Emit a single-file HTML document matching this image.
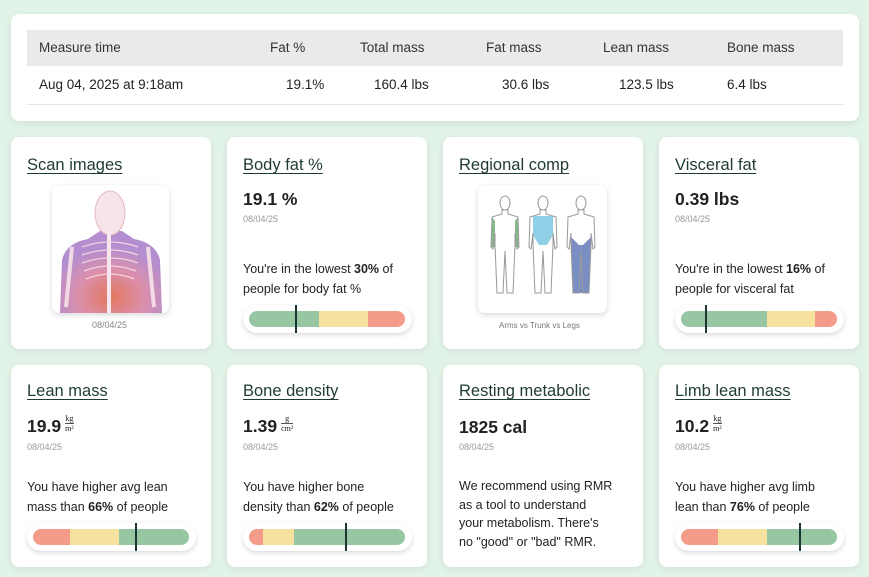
<!DOCTYPE html>
<html><head><meta charset="utf-8"><style>
*{box-sizing:border-box;margin:0;padding:0}
body{width:869px;height:577px;background:#e2f3e8;font-family:"Liberation Sans",sans-serif;color:#222;position:relative;overflow:hidden}
.card{position:absolute;background:#fff;border-radius:8px;box-shadow:0 2px 8px rgba(0,0,0,.08)}
.abs{position:absolute;white-space:nowrap}
.title{font-size:16.5px;color:#1f3b35;text-decoration:underline;text-underline-offset:3px;text-decoration-thickness:1px}
.val{font-size:17.5px;font-weight:bold;color:#222}
.date{font-size:9px;color:#999}
.txt{font-size:12.5px;line-height:20px;color:#222;white-space:normal}
.th{font-size:13.5px;color:#333}
.frac{display:inline-block;vertical-align:middle;font-family:"Liberation Serif",serif;font-size:8px;text-align:center;line-height:9px;margin-left:4px;position:relative;top:-4px;font-weight:normal}
.frac span{display:block}
.frac .n{border-bottom:1px solid #555}
.pill{position:absolute;background:#fff;border-radius:14px;box-shadow:0 2px 5px rgba(0,0,0,.15);height:28px}
</style></head><body>
<div class="card" style="left:11px;top:14px;width:848px;height:107px">
 <div class="abs" style="left:16px;top:16px;width:816px;height:36px;background:#e9eaea"></div>
 <div class="abs" style="left:16px;top:90px;width:816px;height:1px;background:#e4e4e4"></div>
 <div class="abs th" style="left:28px;top:26px">Measure time</div>
 <div class="abs th" style="left:259px;top:26px">Fat %</div>
 <div class="abs th" style="left:349px;top:26px">Total mass</div>
 <div class="abs th" style="left:475px;top:26px">Fat mass</div>
 <div class="abs th" style="left:592px;top:26px">Lean mass</div>
 <div class="abs th" style="left:716px;top:26px">Bone mass</div>
 <div class="abs th" style="left:28px;top:63px;color:#222">Aug 04, 2025 at 9:18am</div>
 <div class="abs th" style="left:275px;top:63px;color:#222">19.1%</div>
 <div class="abs th" style="left:363px;top:63px;color:#222">160.4 lbs</div>
 <div class="abs th" style="left:491px;top:63px;color:#222">30.6 lbs</div>
 <div class="abs th" style="left:608px;top:63px;color:#222">123.5 lbs</div>
 <div class="abs th" style="left:716px;top:63px;color:#222">6.4 lbs</div>
</div>

<!-- Row 1 -->
<div class="card" style="left:11px;top:137px;width:200px;height:212px">
 <div class="abs title" style="left:16px;top:19px">Scan images</div>
 <div class="abs" style="left:41px;top:48px;width:117px;height:128px;border-radius:7px;background:#fff;box-shadow:0 2px 6px rgba(0,0,0,.15);overflow:hidden">
  <svg width="117" height="128" viewBox="0 0 117 128">
   <defs><radialGradient id="tg" cx="50%" cy="80%" r="60%"><stop offset="0" stop-color="#d94a28"/><stop offset=".55" stop-color="#cf6a90"/><stop offset="1" stop-color="#9a68c0"/></radialGradient></defs>
   <path d="M8 128 L10 75 Q14 58 36 54 L48 46 L70 46 L82 54 Q104 58 108 75 L110 128 Z" fill="url(#tg)" opacity=".75"/>
   <ellipse cx="58" cy="28" rx="15" ry="22" fill="#f6e4e8" stroke="#e5b8c6"/>
   <path d="M57 45 L57 128" stroke="#f8e8ee" stroke-width="4"/>
   <g stroke="#f5dde6" stroke-width="1.3" fill="none" opacity=".9">
    <path d="M30 62 Q58 52 86 62"/><path d="M30 70 Q58 60 86 70"/><path d="M30 78 Q58 68 86 78"/><path d="M32 86 Q58 76 84 86"/><path d="M34 94 Q58 84 82 94"/></g>
   <path d="M20 62 L14 122 M96 62 L102 122" stroke="#f2dbe6" stroke-width="4"/>
  </svg>
 </div>
 <div class="abs date" style="left:81px;top:183px;color:#888">08/04/25</div>
</div>

<div class="card" style="left:227px;top:137px;width:200px;height:212px">
 <div class="abs title" style="left:16px;top:19px">Body fat %</div>
 <div class="abs val" style="left:16px;top:52px">19.1 %</div>
 <div class="abs date" style="left:16px;top:77px">08/04/25</div>
 <div class="abs txt" style="left:16px;top:122px;width:165px">You're in the lowest <b>30%</b> of people for body fat %</div>
 <div class="pill" id="bar0" style="left:16px;top:168px;width:169px"></div>
</div>

<div class="card" style="left:443px;top:137px;width:200px;height:212px">
 <div class="abs title" style="left:16px;top:19px">Regional comp</div>
 <div class="abs" style="left:35px;top:48px;width:129px;height:128px;border-radius:7px;background:#fff;box-shadow:0 2px 6px rgba(0,0,0,.15)">
  <svg width="129" height="128" viewBox="0 0 129 128">
   <g transform="translate(27,0)">
    <path d="M-13 32 L-14 62 L-10 62 L-10 36 Z M13 32 L14 62 L10 62 L10 36 Z" fill="#86b98a"/>
    <ellipse cx="0" cy="18" rx="5" ry="7" fill="none" stroke="#999"/>
    <path d="M-3 25 L-3 29 L-13 32 L-14 62 L-12 64 L-10 48 L-10 60 L-8 108 L-2 108 L0 66 L2 108 L8 108 L10 60 L10 48 L12 64 L14 62 L13 32 L3 29 L3 25 Z" fill="none" stroke="#999"/>
   </g>
   <g transform="translate(65,0)">
    <path d="M-10 31 L10 31 L10 50 L4 60 L-4 60 L-10 50 Z" fill="#8fd0e6"/>
    <ellipse cx="0" cy="18" rx="5" ry="7" fill="none" stroke="#999"/>
    <path d="M-3 25 L-3 29 L-13 32 L-14 62 L-12 64 L-10 48 L-10 60 L-8 108 L-2 108 L0 66 L2 108 L8 108 L10 60 L10 48 L12 64 L14 62 L13 32 L3 29 L3 25 Z" fill="none" stroke="#999"/>
   </g>
   <g transform="translate(103,0)">
    <path d="M-10 52 L-2 60 L2 60 L10 52 L8 108 L-8 108 Z" fill="#7b8ec4"/>
    <ellipse cx="0" cy="18" rx="5" ry="7" fill="none" stroke="#999"/>
    <path d="M-3 25 L-3 29 L-13 32 L-14 62 L-12 64 L-10 48 L-10 60 L-8 108 L-2 108 L0 66 L2 108 L8 108 L10 60 L10 48 L12 64 L14 62 L13 32 L3 29 L3 25 Z" fill="none" stroke="#999"/>
   </g>
  </svg>
 </div>
 <div class="abs" style="left:56px;top:184px;font-size:8px;color:#777">Arms vs Trunk vs Legs</div>
</div>

<div class="card" style="left:659px;top:137px;width:200px;height:212px">
 <div class="abs title" style="left:16px;top:19px">Visceral fat</div>
 <div class="abs val" style="left:16px;top:52px">0.39 lbs</div>
 <div class="abs date" style="left:16px;top:77px">08/04/25</div>
 <div class="abs txt" style="left:16px;top:122px;width:165px">You're in the lowest <b>16%</b> of people for visceral fat</div>
 <div class="pill" id="bar1" style="left:16px;top:168px;width:169px"></div>
</div>

<!-- Row 2 -->
<div class="card" style="left:11px;top:365px;width:200px;height:202px">
 <div class="abs title" style="left:16px;top:17px">Lean mass</div>
 <div class="abs val" style="left:16px;top:51px">19.9<span class="frac"><span class="n">kg</span><span>m²</span></span></div>
 <div class="abs date" style="left:16px;top:77px">08/04/25</div>
 <div class="abs txt" style="left:16px;top:112px;width:160px">You have higher avg lean<br>mass than <b>66%</b> of people</div>
 <div class="pill" id="bar2" style="left:16px;top:158px;width:169px"></div>
</div>

<div class="card" style="left:227px;top:365px;width:200px;height:202px">
 <div class="abs title" style="left:16px;top:17px">Bone density</div>
 <div class="abs val" style="left:16px;top:51px">1.39<span class="frac"><span class="n">g</span><span>cm²</span></span></div>
 <div class="abs date" style="left:16px;top:77px">08/04/25</div>
 <div class="abs txt" style="left:16px;top:112px;width:170px">You have higher bone<br>density than <b>62%</b> of people</div>
 <div class="pill" id="bar3" style="left:16px;top:158px;width:169px"></div>
</div>

<div class="card" style="left:443px;top:365px;width:200px;height:202px">
 <div class="abs title" style="left:16px;top:17px">Resting metabolic</div>
 <div class="abs val" style="left:16px;top:52px">1825 cal</div>
 <div class="abs date" style="left:16px;top:77px">08/04/25</div>
 <div class="abs txt" style="left:16px;top:112px;width:170px;line-height:18.5px">We recommend using RMR<br>as a tool to understand<br>your metabolism. There's<br>no "good" or "bad" RMR.</div>
</div>

<div class="card" style="left:659px;top:365px;width:200px;height:202px">
 <div class="abs title" style="left:16px;top:17px">Limb lean mass</div>
 <div class="abs val" style="left:16px;top:51px">10.2<span class="frac"><span class="n">kg</span><span>m²</span></span></div>
 <div class="abs date" style="left:16px;top:77px">08/04/25</div>
 <div class="abs txt" style="left:16px;top:112px;width:170px">You have higher avg limb<br>lean than <b>76%</b> of people</div>
 <div class="pill" id="bar4" style="left:16px;top:158px;width:169px"></div>
</div>

<script>
// Range bar data: segment boundaries (percent) and colours per zone, plus user's percentile
const barZones = [
  ["green","yellow","red"],
  ["green","yellow","red"],
  ["red","yellow","green"],
  ["red","yellow","green"],
  ["red","yellow","green"]
];
const barBreaks = [
  [45,76],
  [55,86],
  [24,55],
  [9,29],
  [24,55]
];
const percentiles = [30,16,66,62,76];
const zoneColors = {green:"#97c6a2",yellow:"#f7e19e",red:"#f59b8a"};
const INNER_LEFT = 6, INNER_W = 156, INNER_TOP = 6, INNER_H = 16;
function xs(p){ return INNER_LEFT + p/100*INNER_W; }
for (let i = 0; i < percentiles.length; i++) {
  const host = document.getElementById('bar'+i);
  const track = document.createElement('div');
  
  
  track.style.cssText = `position:absolute;left:${INNER_LEFT}px;top:${INNER_TOP}px;width:${INNER_W}px;height:${INNER_H}px;border-radius:8px;overflow:hidden`;
  host.appendChild(track);
  const bounds = [0, ...barBreaks[i], 100];
  for (let z = 0; z < barZones[i].length; z++) {
    const seg = document.createElement('div');
    
    
    const x0 = xs(bounds[z]) - INNER_LEFT, x1 = xs(bounds[z+1]) - INNER_LEFT;
    seg.style.cssText = `position:absolute;left:${x0}px;top:0;width:${x1-x0}px;height:100%;background:${zoneColors[barZones[i][z]]}`;
    track.appendChild(seg);
  }
  const mk = document.createElement('div');
  
  
  mk.style.cssText = `position:absolute;left:${xs(percentiles[i])-1}px;top:0;width:2px;height:28px;background:#1d3434`;
  host.appendChild(mk);
}
</script>
</body></html>
